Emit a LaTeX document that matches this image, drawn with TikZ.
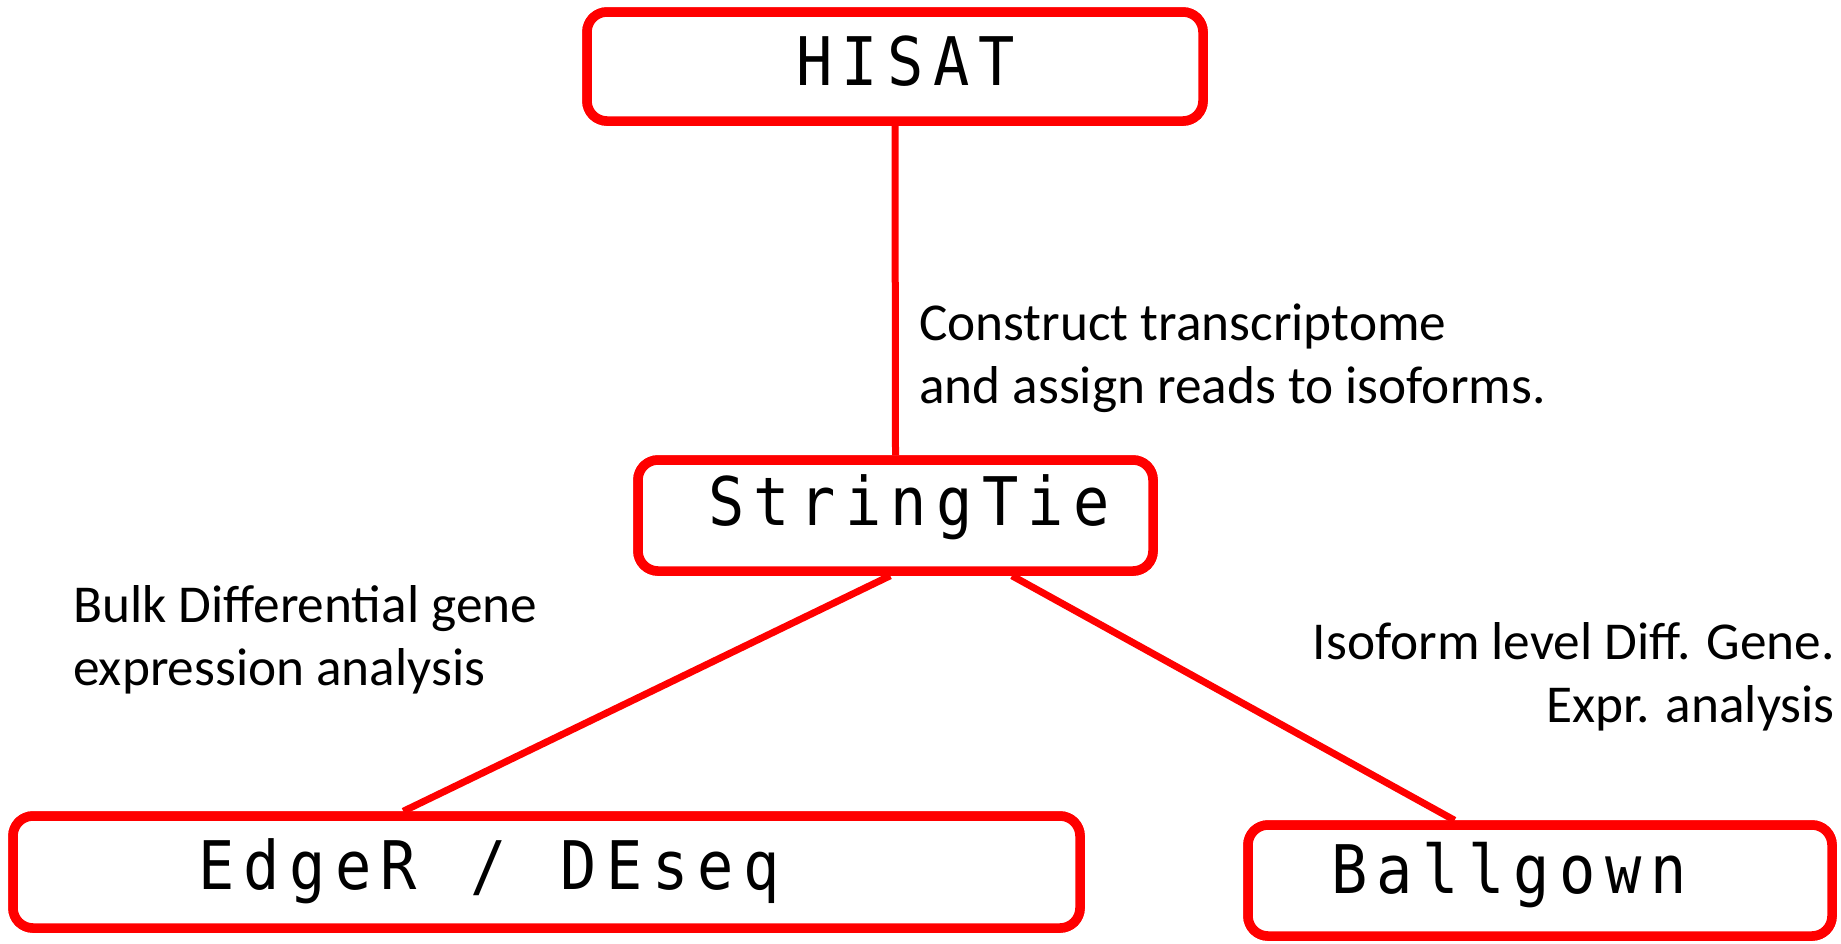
\documentclass[tikz,border=0pt]{standalone}
\usepackage{fontspec}
\setmainfont{Carlito}
\newfontfamily\toolfont[FakeStretch=0.9,LetterSpace=14]{DejaVu Sans Mono}
\usetikzlibrary{calc}
\definecolor{boxred}{RGB}{255,0,0}
\begin{document}
\begin{tikzpicture}[x=1pt,y=-1pt,
  toolbox/.style={draw=boxred, line width=9.5pt, rounded corners=20pt, fill=white,
    minimum width=#1, inner sep=0pt},
  tooltext/.style={anchor=west, inner sep=0pt, font=\toolfont\fontsize{67}{70}\selectfont},
  note/.style={inner sep=0pt, font=\fontsize{53.3}{63}\selectfont},
  link/.style={draw=boxred, line width=7pt}]
\useasboundingbox (0,0) rectangle (1841,943);

% tool boxes
\node[toolbox=616pt, minimum height=109pt] (hisat) at (895,66.5) {};
\node[toolbox=515pt, minimum height=111pt] (stringtie) at (895.5,515.5) {};
\node[toolbox=1067pt, minimum height=112pt] (edger) at (546.5,872) {};
\node[toolbox=584pt, minimum height=111pt] (ballgown) at (1540,880.5) {};

% connectors
\draw[link] (hisat.south) -- (stringtie.north);
\draw[link] ($(stringtie.south west)!0.49!(stringtie.south east)$)
  -- ($(edger.north west)!0.367!(edger.north east)$);
\draw[link] ($(stringtie.south west)!0.722!(stringtie.south east)$)
  -- ($(ballgown.north west)!0.356!(ballgown.north east)$);

% redraw boxes on top of the connector ends
\node[toolbox=616pt, minimum height=109pt] at (hisat) {};
\node[toolbox=515pt, minimum height=111pt] at (stringtie) {};
\node[toolbox=1067pt, minimum height=112pt] at (edger) {};
\node[toolbox=584pt, minimum height=111pt] at (ballgown) {};

% tool names
\node[tooltext] (thisat) at (796,61) {HISAT};
\node[tooltext] (tstringtie) at (708,507) {StringTie};
\node[tooltext] (tedger) at (198,871) {EdgeR\hspace{8pt} / \hspace{8pt}DEseq};
\node[tooltext] (tballgown) at (1331,875) {Ballgown};

% step notes
\node[note, anchor=north west, align=left] (n1) at (919,304)
  {Construct transcriptome\\and assign reads to isoforms.};
\node[note, anchor=north west, align=left] (n2) at (73,585)
  {Bulk Differential gene\\expression analysis};
\node[note, anchor=north east, align=right] (n3) at (1835,622)
  {Isoform level Diff. Gene.\\Expr. analysis};
\end{tikzpicture}
\end{document}
